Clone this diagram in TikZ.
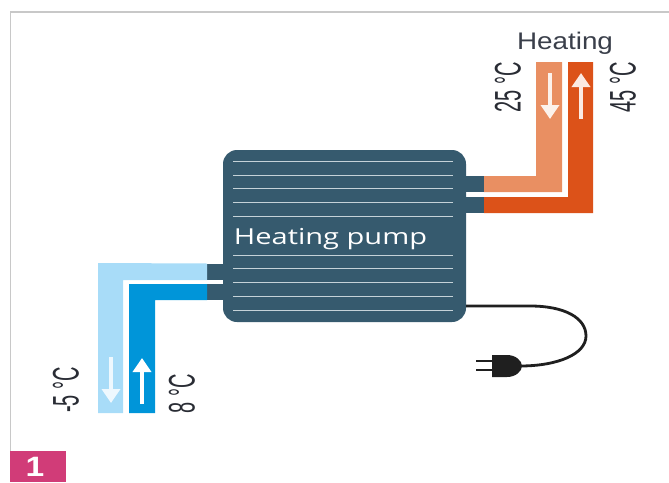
\documentclass[tikz,border=0pt]{standalone}
\usepackage{fontspec}
\setmainfont{Liberation Sans}
\newfontfamily\pumpfont{Open Sans}
\usetikzlibrary{arrows.meta}
\definecolor{pumpblue}{HTML}{365A6E}
\definecolor{returnorange}{HTML}{E98F62}
\definecolor{flowred}{HTML}{DC5219}
\definecolor{skyblue}{HTML}{A8DCF8}
\definecolor{brineblue}{HTML}{0095D9}
\definecolor{tagpink}{HTML}{D13C78}
\definecolor{framegray}{HTML}{C8C8C8}
\definecolor{finline}{HTML}{C5D2D8}
\definecolor{labelgray}{HTML}{3A3F4A}
\tikzset{
	fin/.style={line width=1pt, color=finline},
	flowarrow/.style={line width=3.5pt, -{Triangle[width=18pt,length=14pt]}},
	templabel/.style={rotate=90, xscale=0.54, inner sep=0pt, color=labelgray!70!black, font=\fontsize{37}{37}\selectfont},
	pin/.style={line width=2.6pt, color=black!88},
}

\begin{document}
\begin{tikzpicture}[x=1pt, y=-1pt]
			%%%%% FRAME %%%%%
			\useasboundingbox (0, 0) rectangle (669, 482);
			\draw[line width=1.2pt, color=framegray] (10.5, 452) -- (10.5, 12) -- (669, 12);
			\fill[tagpink] (10, 451) rectangle (66, 482);
			\node[text=white, inner sep=0pt, xscale=1.2, font=\bfseries\fontsize{28}{28}\selectfont] (tag) at (35, 467) {1};
			
			%%%%% PUMP %%%%%
			\fill[pumpblue] (466, 176) rectangle (484, 192);
			\fill[pumpblue] (466, 197) rectangle (484, 213);
			\fill[pumpblue] (207, 263.5) rectangle (224, 280);
			\fill[pumpblue] (207, 284) rectangle (224, 300);
			\fill[pumpblue, rounded corners=14pt] (223, 150) rectangle (466, 322);
			
			\draw[fin] (233, 161) -- (453, 161);
			\draw[fin] (233, 175) -- (453, 175);
			\draw[fin] (233, 188.5) -- (453, 188.5);
			\draw[fin] (233, 202.5) -- (453, 202.5);
			\draw[fin] (233, 216.5) -- (453, 216.5);
			\draw[fin] (233, 255) -- (453, 255);
			\draw[fin] (233, 268.5) -- (453, 268.5);
			\draw[fin] (233, 282.5) -- (453, 282.5);
			\draw[fin] (233, 296) -- (453, 296);
			\draw[fin] (233, 310) -- (453, 310);
			
			\node[text=white, inner sep=0pt, xscale=1.32, font=\pumpfont\fontsize{22}{22}\selectfont] (pump) at (330.5, 239) {Heating pump};
			
			%%%%% HEATING SIDE %%%%%
			\fill[returnorange] (484, 176) -- (536, 176) -- (536, 62) -- (562, 62) -- (562, 192) -- (484, 192) -- cycle;
			\fill[flowred] (484, 197) -- (568, 197) -- (568, 62) -- (593, 62) -- (593, 213) -- (484, 213) -- cycle;
			\draw[flowarrow, color=white!88!returnorange] (550, 73) -- (550, 119);
			\draw[flowarrow, color=white!88!flowred] (581, 119) -- (581, 73);
			
			\node[inner sep=0pt, xscale=1.16, color=labelgray, font=\fontsize{24}{24}\selectfont] (heating) at (565, 43) {Heating};
			\node[templabel] (coolt) at (508, 87.5) {25 °C};
			\node[templabel] (hott) at (623, 87.5) {45 °C};
			
			%%%%% SOURCE SIDE %%%%%
			\fill[skyblue] (207, 263.5) -- (98, 263) -- (98, 413) -- (123, 413) -- (123, 280) -- (207, 280) -- cycle;
			\fill[brineblue] (207, 284) -- (129, 284) -- (129, 413) -- (155, 413) -- (155, 300) -- (207, 300) -- cycle;
			\draw[flowarrow, color=white!80!skyblue] (111, 357) -- (111, 403);
			\draw[flowarrow, color=white] (142, 404) -- (142, 358);
			
			\node[templabel] (coldt) at (66, 390) {-5 °C};
			\node[templabel] (warmt) at (182, 394) {8 °C};
			
			%%%%% PLUG %%%%%
			\draw[line width=2.8pt, color=black!88] (466, 306) -- (530, 306) .. controls (565, 306) and (586, 318) .. (586, 336) .. controls (586, 354) and (558, 366) .. (520, 366);
			\draw[pin] (476, 361) -- (493, 361);
			\draw[pin] (476, 370) -- (493, 370);
			\fill[black!88] (492, 355) -- (507, 355) .. controls (516, 355) and (522, 361) .. (522, 366) .. controls (522, 371) and (516, 377) .. (507, 377) -- (492, 377) -- cycle;
		\end{tikzpicture}
\end{document}
